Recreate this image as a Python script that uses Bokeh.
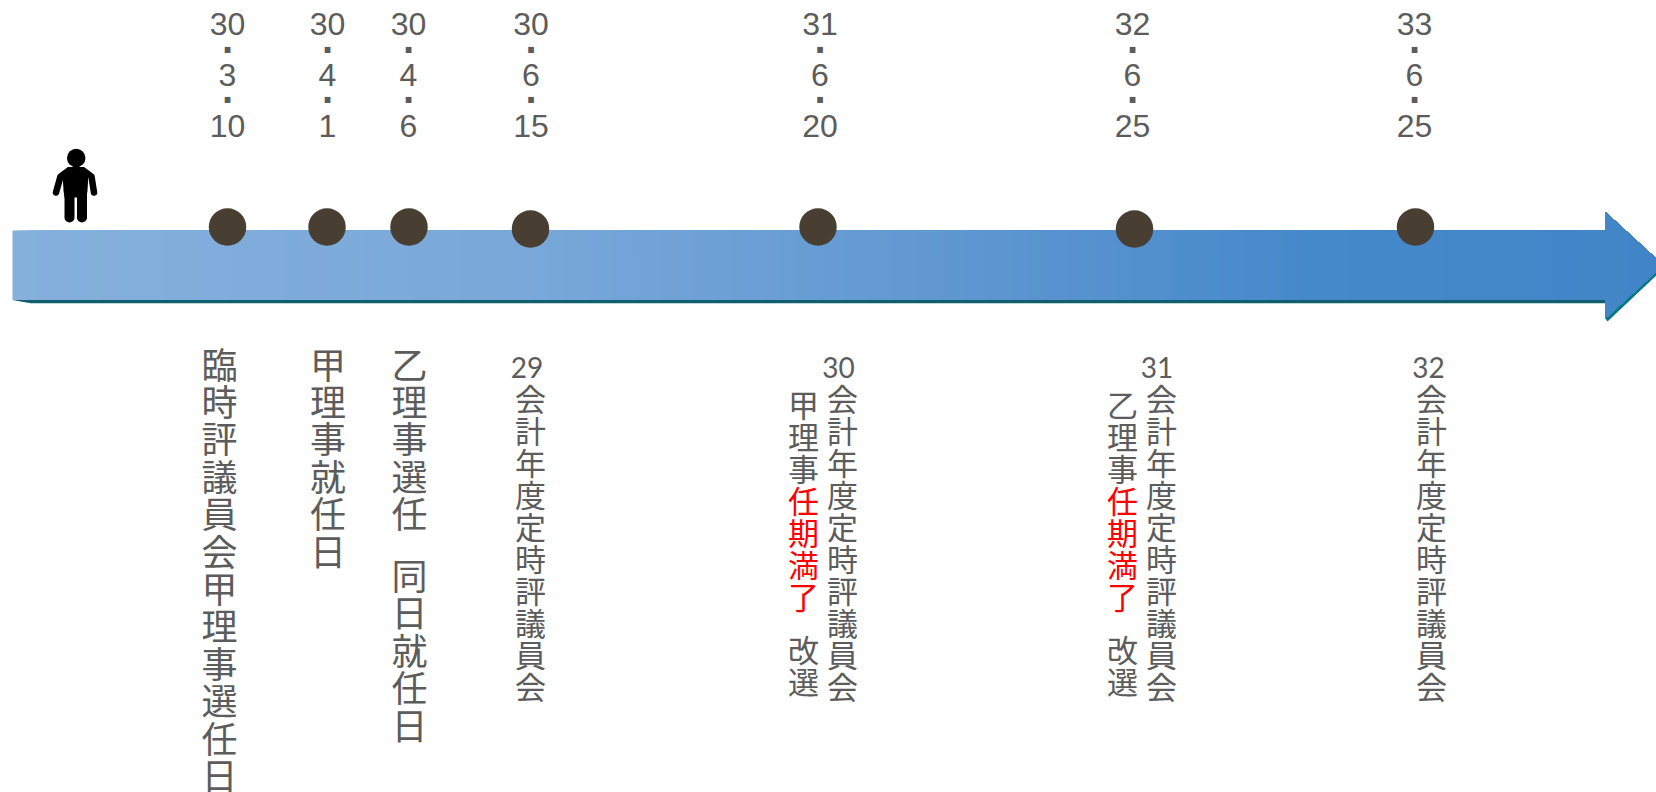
from bokeh.core.properties import value
from bokeh.embed import file_html
from bokeh.models import ColumnDataSource, Range1d
from bokeh.plotting import figure
from bokeh.resources import INLINE

# Timeline content: era year, month and day of every event
years = ["30", "30", "30", "30", "31", "32", "33"]
months = ["3", "4", "4", "6", "6", "6", "6"]
days = ["10", "1", "6", "15", "20", "25", "25"]

# Large captions without a fiscal-year number
large_captions = ["臨時評議員会甲理事選任日", "甲理事就任日", "乙理事選任　同日就任日"]

# Fiscal-year captions and the extra column beside some of them
fiscal_years = ["29", "30", "31", "32"]
fiscal_caption = "会計年度定時評議員会"
term_heads = ["甲理事", "乙理事"]
term_end = "任期満了"
term_tail = "改選"

# Layout, in page pixels
WIDTH, HEIGHT = 1656, 792
marker_x = [227, 326.5, 408.5, 530, 817.5, 1134, 1415]
marker_y = [226.5, 226.5, 226.5, 228.5, 226.5, 228.5, 226.5]
date_x = [227, 327, 408, 530.5, 819.5, 1132, 1414]
large_x = [219, 327.5, 409]
fiscal_label_x = [526.5, 838, 1156.5, 1428]
fiscal_text_x = [530, 842, 1161, 1431]
term_x = [803, 1122]

BAR_LEFT, BAR_TOP, BAR_BOTTOM = 12, 230, 299.5
HEAD_X, HEAD_TOP, HEAD_BOTTOM, TIP_X, TIP_Y = 1605, 211.5, 318, 1663, 264.7

GREY = "#5c5c5c"
RED = "#FF0000"
KANJI = value("Noto Sans CJK JP")

p = figure(
    width=WIDTH, height=HEIGHT, output_backend="svg", toolbar_location=None,
    x_range=Range1d(0, WIDTH), y_range=Range1d(HEIGHT, 0),
    min_border=0, outline_line_color=None, background_fill_color="white",
)
p.xaxis.visible = False
p.yaxis.visible = False
p.grid.visible = False


def arrow_from(x):
    """Outline of the arrow from x through to its tip."""
    if x < HEAD_X:
        xs = [x, HEAD_X, HEAD_X, TIP_X, HEAD_X, HEAD_X, x]
        ys = [BAR_TOP, BAR_TOP, HEAD_TOP, TIP_Y, HEAD_BOTTOM, BAR_BOTTOM, BAR_BOTTOM]
    else:
        t = (x - HEAD_X) / (TIP_X - HEAD_X)
        xs = [x, TIP_X, x]
        ys = [HEAD_TOP + t * (TIP_Y - HEAD_TOP), TIP_Y, HEAD_BOTTOM + t * (TIP_Y - HEAD_BOTTOM)]
    return xs, ys


def shaft_colour(x):
    """Left-to-right blue ramp of the arrow."""
    stops = [(0, (133, 176, 220)), (520, (121, 168, 217)), (1000, (92, 149, 208)),
             (1300, (70, 137, 202)), (1663, (65, 133, 200))]
    for (x0, c0), (x1, c1) in zip(stops, stops[1:]):
        if x <= x1:
            t = (x - x0) / (x1 - x0)
            return "#%02x%02x%02x" % tuple(round(a + t * (b - a)) for a, b in zip(c0, c1))
    return "#4185c8"


# Shadow under the shaft and the arrow head
p.patch([BAR_LEFT, 30, HEAD_X, HEAD_X], [BAR_BOTTOM, 302.8, 302.8, BAR_BOTTOM],
        fill_color="#0f5f6e", line_color=None)
p.patch([HEAD_X, HEAD_X + 2, TIP_X, TIP_X, HEAD_X],
        [HEAD_BOTTOM, HEAD_BOTTOM + 3, TIP_Y + 3.5, TIP_Y, HEAD_BOTTOM],
        fill_color="#00797f", line_color=None)

# Gradient body: nested outlines painted from left to right, so no seams appear
strip_x = list(range(BAR_LEFT, TIP_X, 8))
outlines = [arrow_from(x) for x in strip_x]
p.patches([o[0] for o in outlines], [o[1] for o in outlines],
          fill_color=[shaft_colour(x) for x in strip_x], line_color=None)

# Event markers
p.scatter(marker_x, marker_y, size=37.5, fill_color="#483F32", line_color=None)

# Date stacks above the arrow: year, month, day with square separators
for xs, ys, texts in [(date_x, 23, years), (date_x, 74, months), (date_x, 125, days)]:
    src = ColumnDataSource(dict(x=xs, y=[ys] * len(xs), t=texts))
    p.text("x", "y", text="t", source=src, text_font=value("Liberation Sans"),
           text_font_size="32px", text_color=GREY, text_align="center", text_baseline="middle")
for sep_y in (38, 88):
    src = ColumnDataSource(dict(x=date_x, y=[sep_y] * len(date_x), t=["."] * len(date_x)))
    p.text("x", "y", text="t", source=src, text_font=value("Liberation Sans"),
           text_font_style="bold", text_font_size="40px", text_color=GREY,
           text_align="center", text_baseline="alphabetic")


def column(x, y, text, size, pitch, colour=GREY, space=None):
    """Set a string top to bottom, one glyph per pitch; returns the next free y."""
    xs, ys, chars = [], [], []
    for ch in text:
        if ch == "　":
            y += space
            continue
        xs.append(x)
        ys.append(y)
        chars.append(ch)
        y += pitch
    src = ColumnDataSource(dict(x=xs, y=ys, t=chars))
    p.text("x", "y", text="t", source=src, text_font=KANJI, text_font_size=f"{size}px",
           text_color=colour, text_align="center", text_baseline="middle")
    return y


# Large captions directly below the first three markers
for x, caption in zip(large_x, large_captions):
    column(x, 362, caption, 36, 37.4, space=24.5)

# Fiscal-year meeting captions
for x_label, x_text, fy in zip(fiscal_label_x, fiscal_text_x, fiscal_years):
    p.text([x_label], [367], text=[fy], text_font=value("Lato"), text_font_size="28px",
           text_color=GREY, text_align="center", text_baseline="middle")
    column(x_text, 397, fiscal_caption, 31, 32)

# Term-expiry columns, with the expiry itself in red
for x, head in zip(term_x, term_heads):
    y = column(x, 402.5, head, 31, 32)
    y = column(x, y, term_end, 31, 32, colour=RED)
    column(x, y + 21.5, term_tail, 31, 32)

# Person standing at the start of the arrow
p.scatter([75.7], [157.5], size=18.5, fill_color="black", line_color=None)
p.patch([68, 83, 88, 87, 86, 64, 63, 62], [166.5, 166.5, 172, 190, 197, 197, 190, 172],
        fill_color="black", line_color=None)
p.multi_line([[68, 60, 55.5], [83, 91, 93.5]], [[170, 176, 192], [170, 176, 192]],
             line_color="black", line_width=6.5, line_cap="round", line_join="round")
p.multi_line([[69, 69], [81.5, 81.5]], [[192, 217], [192, 217]],
             line_color="black", line_width=10, line_cap="round")

with open("out.html", "w") as f:
    f.write(file_html(p, INLINE))
